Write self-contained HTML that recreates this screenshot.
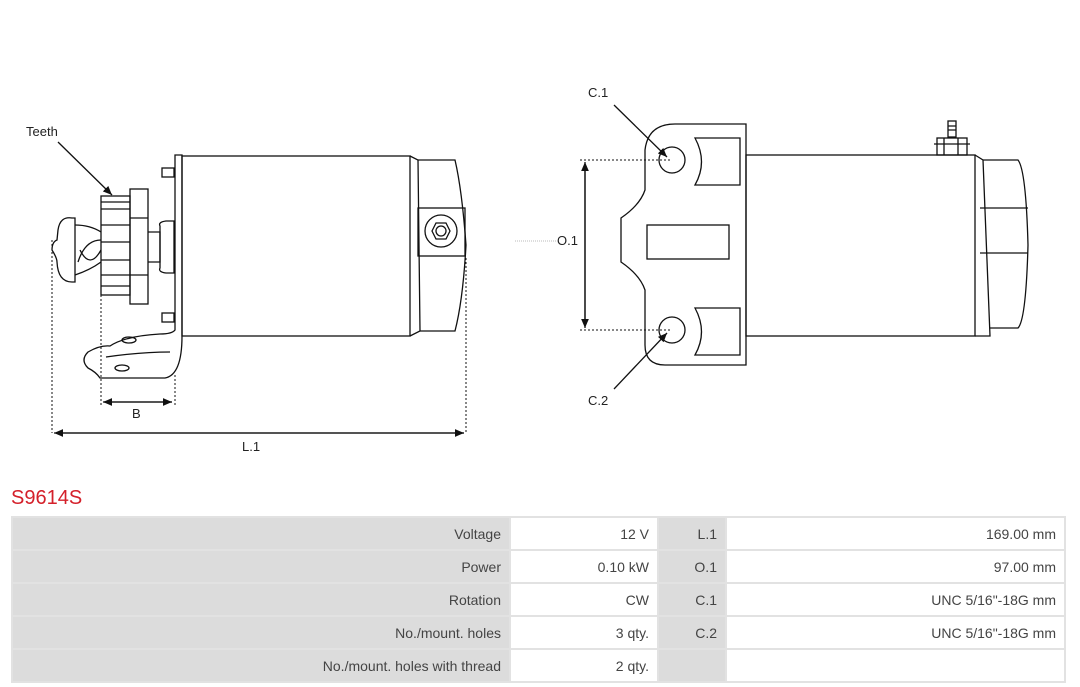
<!DOCTYPE html>
<html><head><meta charset="utf-8"><style>
body{margin:0;width:1080px;height:687px;background:#fff;font-family:"Liberation Sans",sans-serif;position:relative;overflow:hidden}
svg{position:absolute;left:0;top:0}
.t{position:absolute;left:11px;top:487px;color:#d4202a;font-size:20px}
table{position:absolute;left:11px;top:516px;width:1055px;border-collapse:separate;border-spacing:2px;background:#e2e2e2;font-size:14px;color:#444}
td{height:31px;text-align:right;padding:0 8px;background:#fff}
td.g{background:#dcdcdc}
</style></head><body>
<svg width="1080" height="480" viewBox="0 0 1080 480" fill="none" stroke="#111" stroke-width="1.3" font-family="Liberation Sans, sans-serif">
<defs><marker id="a" markerWidth="8" markerHeight="8" refX="7" refY="4" orient="auto"><path d="M0,1 L7,4 L0,7z" fill="#111" stroke="none"/></marker></defs>
<text x="26" y="136" font-size="13" fill="#222" stroke="none">Teeth</text>
<line x1="58" y1="142" x2="112" y2="195" marker-end="url(#a)"/>
<rect x="182" y="156" width="228" height="180"/>
<path d="M175,155 H182 V336 Q182,375 165,378 H100 Q96,372 88,368 Q80,360 88,352 Q100,345 110,346 Q125,336 160,334 Q172,334 175,330 Z"/>
<path d="M106,357 Q140,352 170,352"/>
<ellipse cx="129" cy="340" rx="7" ry="3"/><ellipse cx="122" cy="368" rx="7" ry="3"/>
<path d="M410,156 L418,160 L420,331 L410,336"/>
<path d="M418,160 H455 Q462,190 466,245 Q463,300 455,331 H420"/>
<rect x="418" y="208" width="47" height="48"/>
<circle cx="441" cy="231" r="16"/>
<path d="M432,231 L436,223 H446 L450,231 L446,239 H436 Z"/><circle cx="441" cy="231" r="5"/>
<rect x="162" y="168" width="12" height="9"/><rect x="162" y="313" width="12" height="9"/>
<rect x="101" y="196" width="29" height="99"/>
<path d="M101,202 H130 M101,209 H130 M101,225 H130 M101,242 H130 M101,260 H130 M101,275 H130 M101,286 H130"/>
<rect x="130" y="189" width="18" height="115"/><path d="M130,218 H148 M130,275 H148"/>
<path d="M148,232 H160 V262 H148"/>
<path d="M160,226 Q158,222 166,221 H174 V273 H166 Q158,272 160,268 Z"/>
<path d="M75,225 Q90,225 101,232 M75,275 Q90,270 101,262 M78,262 Q85,240 101,240 M80,250 Q90,270 101,250"/>
<path d="M72,218 Q60,216 58,230 L57,240 Q52,242 52,250 Q57,258 57,262 Q58,282 72,282 H75 V218 Z"/>
<g stroke-dasharray="2,2" stroke-width="1"><line x1="52" y1="240" x2="52" y2="433"/><line x1="466" y1="258" x2="466" y2="433"/><line x1="101" y1="295" x2="101" y2="405"/><line x1="175" y1="375" x2="175" y2="405"/></g>
<line x1="104" y1="402" x2="172" y2="402" marker-end="url(#a)"/>
<line x1="172" y1="402" x2="103" y2="402" marker-end="url(#a)"/>
<line x1="56" y1="433" x2="464" y2="433" marker-end="url(#a)"/>
<line x1="464" y1="433" x2="54" y2="433" marker-end="url(#a)"/>
<text x="132" y="418" font-size="13" fill="#222" stroke="none">B</text>
<text x="242" y="451" font-size="13" fill="#222" stroke="none">L.1</text>
<text x="588" y="97" font-size="13" fill="#222" stroke="none">C.1</text>
<text x="588" y="405" font-size="13" fill="#222" stroke="none">C.2</text>
<text x="557" y="245" font-size="13" fill="#222" stroke="none">O.1</text>
<line x1="515" y1="241" x2="556" y2="241" stroke="#bbb" stroke-width="1" stroke-dasharray="1,1"/>
<line x1="614" y1="105" x2="667" y2="157" marker-end="url(#a)"/>
<line x1="614" y1="389" x2="667" y2="333" marker-end="url(#a)"/>
<path d="M675,124 H746 V365 H665 Q645,365 645,345 V290 Q640,275 621,262 V218 Q640,205 645,190 V150 Q648,124 675,124 Z"/>
<circle cx="672" cy="160" r="13"/><circle cx="672" cy="330" r="13"/>
<path d="M695,138 H740 V185 H695 Q708,162 695,138 Z"/>
<path d="M695,308 H740 V355 H695 Q708,332 695,308 Z"/>
<rect x="647" y="225" width="82" height="34"/>
<rect x="746" y="155" width="229" height="181"/>
<path d="M975,155 L983,160 L990,336 L975,336"/>
<path d="M983,160 H1018 Q1026,170 1028,245 Q1026,320 1018,328 H990"/>
<path d="M980,208 H1028 M980,253 H1028"/>
<rect x="937" y="138" width="30" height="17"/><path d="M934,144 H970 M944,138 V155 M958,138 V155"/>
<rect x="948" y="121" width="8" height="16"/><path d="M948,126 H956 M948,130 H956"/>
<g stroke-dasharray="2,2" stroke-width="1"><line x1="580" y1="160" x2="672" y2="160"/><line x1="580" y1="330" x2="672" y2="330"/></g>
<line x1="585" y1="166" x2="585" y2="328" marker-end="url(#a)"/>
<line x1="585" y1="324" x2="585" y2="162" marker-end="url(#a)"/>
</svg>
<div class="t">S9614S</div>
<table>
<tr><td class="g" style="width:480px">Voltage</td><td style="width:130px">12 V</td><td class="g" style="width:50px">L.1</td><td>169.00 mm</td></tr>
<tr><td class="g">Power</td><td>0.10 kW</td><td class="g">O.1</td><td>97.00 mm</td></tr>
<tr><td class="g">Rotation</td><td>CW</td><td class="g">C.1</td><td>UNC 5/16"-18G mm</td></tr>
<tr><td class="g">No./mount. holes</td><td>3 qty.</td><td class="g">C.2</td><td>UNC 5/16"-18G mm</td></tr>
<tr><td class="g">No./mount. holes with thread</td><td>2 qty.</td><td class="g"></td><td></td></tr>
</table>
</body></html>
